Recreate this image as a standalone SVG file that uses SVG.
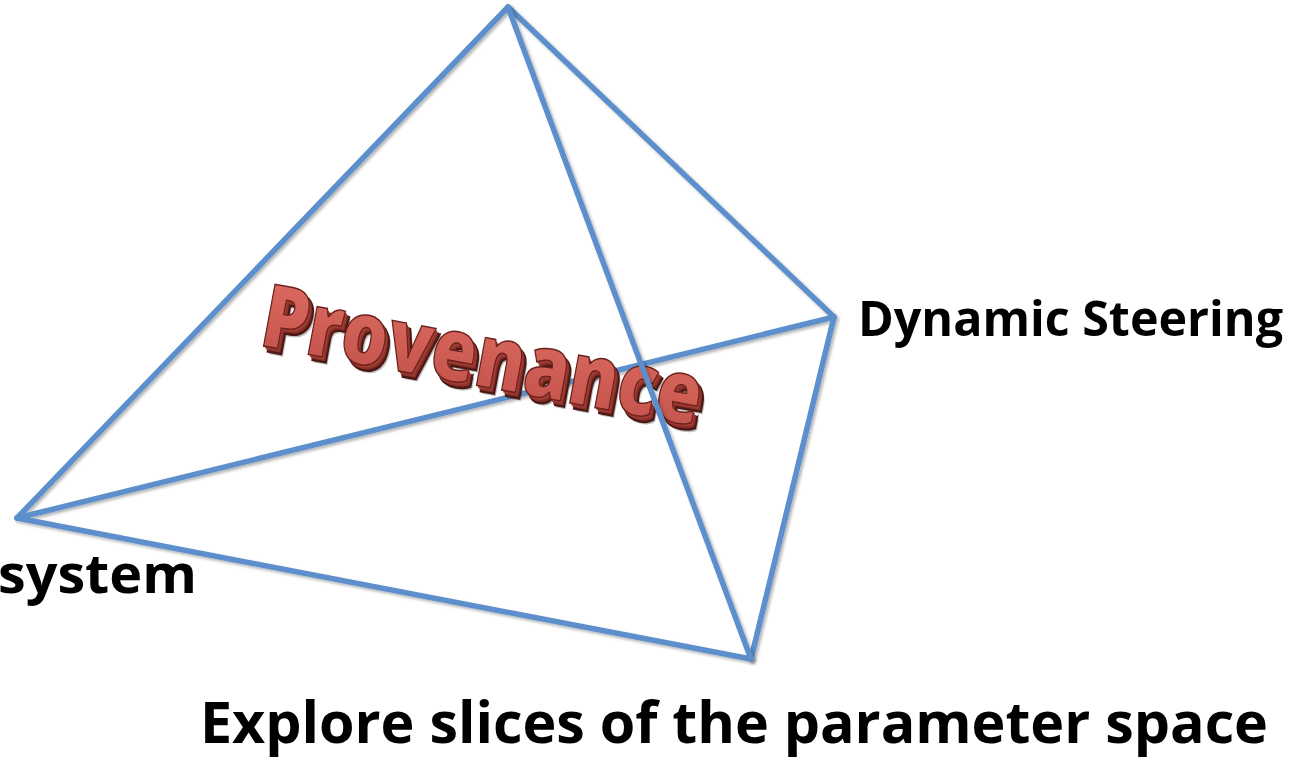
<svg xmlns="http://www.w3.org/2000/svg" width="1299" height="758" viewBox="0 0 1299 758">
<defs>
<filter id="sh" filterUnits="userSpaceOnUse" x="0" y="0" width="1299" height="758"><feDropShadow dx="2" dy="2" stdDeviation="1.5" flood-color="#000" flood-opacity="0.3"/></filter>
<linearGradient id="rg" x1="0" y1="0" x2="0" y2="1"><stop offset="0" stop-color="#e27066"/><stop offset="1" stop-color="#bf4f47"/></linearGradient>
</defs>
<style>
.e{stroke:#5b8fcb;stroke-width:5.5;fill:none;stroke-linecap:round}
.lbl{font-family:"Open Sans","Liberation Sans",sans-serif;font-weight:bold;fill:#000}
.pv{font-family:"Open Sans","Liberation Sans",sans-serif;font-weight:800;font-size:88px}
</style>
<rect width="1299" height="758" fill="#fff"/>
<g id="connectors" filter="url(#sh)">
<line class="e" x1="508" y1="7" x2="17" y2="518"/>
<line class="e" x1="508" y1="7" x2="834" y2="317"/>
<line class="e" x1="17" y1="518" x2="834" y2="317"/>
<line class="e" x1="17" y1="518" x2="751" y2="659"/>
<line class="e" x1="834" y1="317" x2="751" y2="659"/>
</g>
<g id="provenance" transform="translate(258,345) rotate(10.5)">
<text class="pv" x="7" y="7" fill="#000" opacity="0.25" textLength="446" lengthAdjust="spacingAndGlyphs">Provenance</text>
<text class="pv" x="5" y="5" fill="#5e1f1a" stroke="#4a1713" stroke-width="2" textLength="446" lengthAdjust="spacingAndGlyphs">Provenance</text>
<text class="pv" x="3.5" y="3.5" fill="#8a322b" textLength="446" lengthAdjust="spacingAndGlyphs">Provenance</text>
<text class="pv" x="2" y="2" fill="#a53c34" textLength="446" lengthAdjust="spacingAndGlyphs">Provenance</text>
<text class="pv" x="0" y="0" fill="url(#rg)" stroke="#6a221d" stroke-width="1.5" textLength="446" lengthAdjust="spacingAndGlyphs">Provenance</text>
</g>
<g filter="url(#sh)"><line class="e" x1="508" y1="7" x2="751" y2="659"/></g>
<g id="dynamic"><text class="lbl" x="858" y="336" font-size="49" textLength="425" lengthAdjust="spacingAndGlyphs">Dynamic Steering</text></g>
<g id="system"><text class="lbl" x="-2" y="593" font-size="54" textLength="199" lengthAdjust="spacingAndGlyphs">system</text></g>
<g id="explore"><text class="lbl" x="200" y="743" font-size="58" textLength="1068" lengthAdjust="spacingAndGlyphs">Explore slices of the parameter space</text></g>
</svg>
